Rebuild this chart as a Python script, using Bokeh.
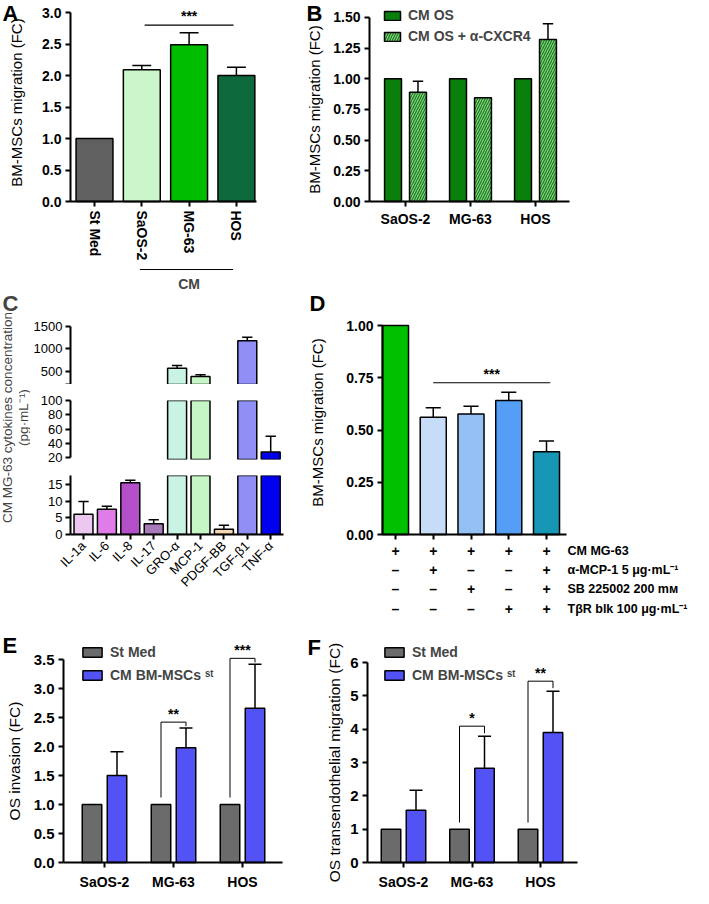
import math
from bokeh.plotting import figure
from bokeh.layouts import column, row
from bokeh.models import (Range1d, FixedTicker, Label, LabelSet, ColumnDataSource,
                          Legend, LegendItem, Arrow, NumeralTickFormatter)
from bokeh.core.properties import value
from bokeh.embed import file_html
from bokeh.resources import INLINE

FONT = "Liberation Sans"

# ---------------- data ----------------
a_categories = ["St Med", "SaOS-2", "MG-63", "HOS"]
a_values = [1.0, 2.09, 2.49, 2.00]
a_errors = [0.0, 0.07, 0.19, 0.13]
a_colors = ["#606060", "#cbf6cb", "#00bd00", "#0d6a3c"]
a_ticks = [0.0, 0.5, 1.0, 1.5, 2.0, 2.5, 3.0]

b_categories = ["SaOS-2", "MG-63", "HOS"]
b_cm_os = [1.0, 1.0, 1.0]
b_cm_os_cxcr4 = [0.89, 0.845, 1.32]
b_cm_os_cxcr4_err = [0.09, 0.0, 0.13]
b_ticks = [0.0, 0.25, 0.5, 0.75, 1.0, 1.25, 1.5]

c_categories = ["IL-1a", "IL-6", "IL-8", "IL-17", "GRO-α", "MCP-1", "PDGF-BB", "TGF-β1", "TNF-α"]
c_values = [6.1, 7.6, 15.5, 3.2, 560, 380, 1.6, 1175, 28]
c_errors = [3.8, 0.9, 0.8, 1.2, 65, 35, 1.2, 75, 22]
c_colors = ["#ecc8f1", "#e07ce8", "#b44fca", "#a67bb8", "#c9f3e2", "#c6f5c6", "#f6d7b3", "#8f8ff5", "#0000ee"]
c_ticks_top = [200, 500, 1000, 1500]
c_ticks_mid = [20, 40, 60, 80, 100]
c_ticks_bot = [0, 5, 10, 15]

d_values = [1.0, 0.561, 0.577, 0.641, 0.396]
d_errors = [0.0, 0.045, 0.037, 0.040, 0.051]
d_colors = ["#00c000", "#c7ddf7", "#94c0f5", "#559ef6", "#1896b5"]
d_rows = ["CM MG-63", "α-MCP-1  5 μg·mL⁻¹", "SB 225002 200 mᴍ", "TβR blk 100 μg·mL⁻¹"]
d_signs = [["+", "+", "+", "+", "+"],
           ["–", "+", "–", "–", "+"],
           ["–", "–", "+", "–", "+"],
           ["–", "–", "–", "+", "+"]]
d_ticks = [0.0, 0.25, 0.5, 0.75, 1.0]

ef_categories = ["SaOS-2", "MG-63", "HOS"]
e_st_med = [1.0, 1.0, 1.0]
e_cm = [1.50, 1.98, 2.66]
e_cm_err = [0.41, 0.34, 0.76]
e_sig = ["", "**", "***"]
e_ticks = [0.0, 0.5, 1.0, 1.5, 2.0, 2.5, 3.0, 3.5]

f_st_med = [1.0, 1.0, 1.0]
f_cm = [1.57, 2.83, 3.90]
f_cm_err = [0.60, 0.96, 1.24]
f_sig = ["", "*", "**"]
f_ticks = [0, 1, 2, 3, 4, 5, 6]


# ---------------- helpers ----------------
def style(p, tick_size="14px", tick_style="bold"):
    p.outline_line_color = None
    p.xgrid.grid_line_color = None
    p.ygrid.grid_line_color = None
    for ax in p.axis:
        ax.axis_line_width = 2
        ax.axis_line_color = "black"
        ax.major_tick_line_width = 2
        ax.major_tick_line_color = "black"
        ax.major_tick_in = 0
        ax.major_tick_out = 5
        ax.minor_tick_line_color = None
        ax.major_label_text_font = FONT
        ax.major_label_text_font_size = tick_size
        ax.major_label_text_font_style = tick_style
        ax.major_label_text_color = "black"
        ax.major_label_standoff = 4


def full_fig(s):
    """Figure whose frame is the whole canvas; axes are pinned at data locations."""
    xr = ((s["L"] - s["xc0"]) / s["kx"], (s["L"] + s["W"] - s["xc0"]) / s["kx"])
    yr = ((s["y0"] - (s["T"] + s["H"])) / s["ky"], (s["y0"] - s["T"]) / s["ky"])
    p = figure(width=s["W"], height=s["H"], min_border=0,
               x_range=Range1d(*xr), y_range=Range1d(*yr),
               output_backend="svg", toolbar_location=None, tools="")
    style(p)
    xa = (s["axis"] - s["xc0"]) / s["kx"]
    p.yaxis.fixed_location = xa
    p.xaxis.fixed_location = 0
    p.xaxis.bounds = (xa, (s["xend"] - s["xc0"]) / s["kx"])
    return p


def to_data(s, px, py):
    return (px - s["xc0"]) / s["kx"], (s["y0"] - py) / s["ky"]


def letter(p, s, text, px, py):
    x, y = to_data(s, px, py)
    p.add_layout(Label(x=x, y=y, text=text, text_font=FONT, text_font_size="22px",
                       text_font_style="bold", text_align="left", text_baseline="top",
                       text_color="black"))


def ylabel(p, s, text, px, py, size="15px"):
    x, y = to_data(s, px, py)
    p.add_layout(Label(x=x, y=y, text=text, angle=math.pi / 2, text_font=FONT,
                       text_font_size=size, text_align="center", text_baseline="middle",
                       text_color="black"))


def err_bars(p, xs, vals, errs, cap_half, lw=1.5):
    x0, y0, x1, y1 = [], [], [], []
    for x, v, e in zip(xs, vals, errs):
        if e <= 0:
            continue
        x0 += [x, x - cap_half]
        x1 += [x, x + cap_half]
        y0 += [v, v + e]
        y1 += [v + e, v + e]
    if x0:
        p.segment(x0=x0, y0=y0, x1=x1, y1=y1, line_color="black", line_width=lw)


def stars(p, x, y, txt, size="14px"):
    p.text(x=[x], y=[y], text=[txt], text_align="center", text_baseline="bottom",
           text_font=value(FONT), text_font_size=size, text_font_style="bold",
           text_color="black")


def cat_axis(ax, cats):
    ax.ticker = FixedTicker(ticks=list(range(len(cats))))
    ax.major_label_overrides = {i: c for i, c in enumerate(cats)}


def style_legend(leg, gw, gh, size, spacing):
    leg.glyph_width = gw
    leg.glyph_height = gh
    leg.label_height = gh
    leg.spacing = spacing
    leg.padding = 0
    leg.margin = 0
    leg.label_standoff = 6
    leg.border_line_color = None
    leg.background_fill_alpha = 0
    leg.label_text_font = FONT
    leg.label_text_font_style = "bold"
    leg.label_text_font_size = size


# ---------------- Panel A ----------------
sA = dict(L=8, T=8, W=302, H=290, axis=78, xend=264, xc0=102, kx=47.3, y0=209, ky=63.0)
pA = full_fig(sA)
xa = list(range(len(a_categories)))
pA.vbar(x=xa, top=a_values, bottom=0, width=0.78, fill_color=a_colors,
        line_color="black", line_width=1.5)
err_bars(pA, xa, a_values, a_errors, 0.2)
pA.yaxis.ticker = FixedTicker(ticks=a_ticks)
pA.yaxis.formatter = NumeralTickFormatter(format="0.0")
pA.yaxis.bounds = (0, 3.0)
cat_axis(pA.xaxis[0], a_categories)
pA.xaxis.major_label_orientation = "vertical"
ylabel(pA, sA, "BM-MSCs migration (FC)", 24, 110)
sigA = max(v + e for v, e in zip(a_values[1:], a_errors[1:])) + 0.12
pA.line(x=[1.06, 2.94], y=[sigA, sigA], line_color="black", line_width=1.2)
stars(pA, 2, sigA + 0.02, "***")
cm_line_y = to_data(sA, 0, 277)[1]
cm_text_y = to_data(sA, 0, 291)[1]
pA.add_layout(Arrow(end=None, x_start=0.96, y_start=cm_line_y, x_end=2.93, y_end=cm_line_y,
                    line_color="black", line_width=1.2))
pA.add_layout(Label(x=2, y=cm_text_y, text="CM", text_font=FONT, text_font_size="14px",
                    text_font_style="bold", text_align="center", text_baseline="middle"))
letter(pA, sA, "A", 10, 8)

# ---------------- Panel B ----------------
sB = dict(L=310, T=8, W=391, H=290, axis=377, xend=577, xc0=413, kx=65.0, y0=209, ky=122.67)
pB = full_fig(sB)
xb = list(range(len(b_categories)))
offB, wB = 0.192, 0.26
rb1 = pB.vbar(x=[i - offB for i in xb], top=b_cm_os, width=wB, fill_color="#0b7f0b",
              line_color="black", line_width=1.5)
rb2 = pB.vbar(x=[i + offB for i in xb], top=b_cm_os_cxcr4, width=wB, fill_color="#82d282",
              hatch_pattern="/", hatch_color="#1c7a1c", hatch_scale=5, hatch_weight=1.2,
              line_color="black", line_width=1.5)
err_bars(pB, [i + offB for i in xb], b_cm_os_cxcr4, b_cm_os_cxcr4_err, 0.08)
pB.yaxis.ticker = FixedTicker(ticks=b_ticks)
pB.yaxis.formatter = NumeralTickFormatter(format="0.00")
pB.yaxis.bounds = (0, 1.5)
cat_axis(pB.xaxis[0], b_categories)
ylabel(pB, sB, "BM-MSCs migration (FC)", 322, 117)
legB = Legend(items=[LegendItem(label="CM OS", renderers=[rb1]),
                     LegendItem(label="CM OS + α-CXCR4", renderers=[rb2])],
              location=(80, 290 - 44))
style_legend(legB, 20, 11, "14px", 5)
pB.add_layout(legB)
letter(pB, sB, "B", 314, 8)


# ---------------- Panel C (broken axis: three stacked segments) ----------------
def seg_fig(bt, fh, bb, yr):
    kx = 23.4
    xr = (-13 / kx, -13 / kx + 213 / kx)
    p = figure(frame_width=213, frame_height=fh, min_border_left=37, min_border_right=22,
               min_border_top=bt, min_border_bottom=bb,
               x_range=Range1d(*xr), y_range=Range1d(*yr),
               output_backend="svg", toolbar_location=None, tools="")
    style(p, tick_size="13px", tick_style="normal")
    p.yaxis.major_label_standoff = 3
    return p


seg_ranges = [(200, 200 + 62 / 0.045), (17.6, 100), (0, 59 / 3.333)]
pCt = seg_fig(32, 62, 0, seg_ranges[0])      # page y 298..392
pCm = seg_fig(16, 59, 6, seg_ranges[1])      # page y 392..473
pCb = seg_fig(10, 59, 90, seg_ranges[2])     # page y 473..632
for p, yr, ticks, bounds in [(pCt, seg_ranges[0], c_ticks_top, (200, 1500)),
                             (pCm, seg_ranges[1], c_ticks_mid, (20, 100)),
                             (pCb, seg_ranges[2], c_ticks_bot, None)]:
    # only the bars that reach into this segment of the broken axis
    keep = [i for i, v in enumerate(c_values) if v > yr[0]]
    xs = keep
    vs = [c_values[i] for i in keep]
    es = [c_errors[i] for i in keep]
    cs = [c_colors[i] for i in keep]
    p.vbar(x=xs, top=vs, bottom=0, width=0.81, fill_color=cs,
           line_color="black", line_width=1.5)
    err_bars(p, xs, vs, es, 0.22)
    p.yaxis.ticker = FixedTicker(ticks=ticks)
    if bounds is not None:
        p.yaxis.bounds = bounds
pCt.yaxis.major_label_overrides = {200: ""}
pCt.xaxis.visible = False
pCm.xaxis.visible = False
cat_axis(pCb.xaxis[0], c_categories)
pCb.xaxis.major_label_orientation = math.pi / 4
pCb.xaxis.major_label_text_font_size = "13px"

pCl = figure(width=30, height=334, min_border=0, x_axis_type=None, y_axis_type=None,
             x_range=Range1d(0, 30), y_range=Range1d(0, 334),
             output_backend="svg", toolbar_location=None, tools="")
pCl.outline_line_color = None
pCl.xgrid.grid_line_color = None
pCl.ygrid.grid_line_color = None
pCl.add_layout(Label(x=15, y=632 - 425, text="CM MG-63 cytokines concentration\n(pg·mL⁻¹)",
                     angle=math.pi / 2, text_font=FONT, text_font_size="13.5px",
                     text_align="center", text_baseline="middle", text_line_height=1.1))
pCl.add_layout(Label(x=2, y=334, text="C", text_font=FONT, text_font_size="22px",
                     text_font_style="bold", text_align="left", text_baseline="top"))

# ---------------- Panel D ----------------
sD = dict(L=310, T=298, W=391, H=334, axis=387, xend=571, xc0=400, kx=37.75, y0=542, ky=209.0)
pD = full_fig(sD)
xd = list(range(len(d_values)))
pD.vbar(x=xd, top=d_values, width=0.69, fill_color=d_colors, line_color="black", line_width=1.5)
err_bars(pD, xd, d_values, d_errors, 0.2)
pD.yaxis.ticker = FixedTicker(ticks=d_ticks)
pD.yaxis.formatter = NumeralTickFormatter(format="0.00")
pD.yaxis.bounds = (0, 1.0)
pD.xaxis.ticker = FixedTicker(ticks=xd)
pD.xaxis.major_label_overrides = {i: "" for i in xd}
ylabel(pD, sD, "BM-MSCs migration (FC)", 322, 430)
sigD = max(v + e for v, e in zip(d_values[1:], d_errors[1:])) + 0.045
pD.line(x=[1.0, 4.1], y=[sigD, sigD], line_color="black", line_width=1.2)
stars(pD, 2.55, sigD + 0.005, "***")
row_py = [558, 577, 596, 616]
tx, ty, tt = [], [], []
for r, signs in enumerate(d_signs):
    yy = to_data(sD, 0, row_py[r])[1]
    for i, sgn in enumerate(signs):
        tx.append(xd[i])
        ty.append(yy)
        tt.append(sgn)
pD.add_layout(LabelSet(source=ColumnDataSource(dict(x=tx, y=ty, t=tt)), x="x", y="y", text="t",
                       text_align="center", text_baseline="middle", text_font=value(FONT),
                       text_font_size="14px", text_font_style="bold", text_color="black"))
lx = to_data(sD, 572, 0)[0]
pD.add_layout(LabelSet(source=ColumnDataSource(dict(x=[lx] * len(d_rows),
                                                    y=[to_data(sD, 0, py)[1] for py in row_py],
                                                    t=d_rows)),
                       x="x", y="y", text="t", text_align="left", text_baseline="middle",
                       text_font=value(FONT), text_font_size="12.5px", text_font_style="bold",
                       text_color="black"))
letter(pD, sD, "D", 314, 298)


# ---------------- Panels E, F ----------------
def grouped(s, st, cm, cm_err, sig, ticks, fmt, ybound, ylab, ylab_px, top_pad, foot_pad,
            lab_letter, lpx, lpy):
    p = full_fig(s)
    kx = s["kx"]
    xs = list(range(len(ef_categories)))
    off = 12.5 / kx
    w = 19.5 / kx
    r1 = p.vbar(x=[i - off for i in xs], top=st, width=w, fill_color="#6b6b6b",
                line_color="black", line_width=1.5)
    r2 = p.vbar(x=[i + off for i in xs], top=cm, width=w, fill_color="#5252f5",
                line_color="black", line_width=1.5)
    err_bars(p, [i + off for i in xs], cm, cm_err, 6.5 / kx)
    for i, sg in enumerate(sig):
        if not sg:
            continue
        t = cm[i] + cm_err[i]
        top = t + top_pad
        p.line(x=[i - off, i - off, i + off, i + off],
               y=[st[i] + foot_pad, top, top, t + top_pad * 0.3],
               line_color="black", line_width=1)
        stars(p, i, top, sg)
    p.yaxis.ticker = FixedTicker(ticks=ticks)
    p.yaxis.formatter = NumeralTickFormatter(format=fmt)
    p.yaxis.bounds = ybound
    p.yaxis.major_label_text_font_size = "15px"
    cat_axis(p.xaxis[0], ef_categories)
    p.xaxis.major_label_standoff = 6
    ytop_px = s["y0"] - ybound[1] * s["ky"]
    ylabel(p, s, ylab, ylab_px, (ytop_px + s["y0"]) / 2, size="15.5px")
    leg = Legend(items=[LegendItem(label="St Med", renderers=[r1]),
                        LegendItem(label="CM BM-MSCs ˢᵗ", renderers=[r2])],
                 location=(80, s["T"] + s["H"] - 691))
    style_legend(leg, 24, 12, "14px", 7)
    p.add_layout(leg)
    letter(p, s, lab_letter, lpx, lpy)
    return p


sE = dict(L=8, T=632, W=302, H=264, axis=71, xend=290, xc0=112, kx=69.0, y0=870, ky=58.0)
pE = grouped(sE, e_st_med, e_cm, e_cm_err, e_sig, e_ticks, "0.0", (0, 3.5),
             "OS invasion (FC)", 22, 0.1, 0.12, "E", 10, 640)
sF = dict(L=310, T=632, W=391, H=264, axis=375, xend=585, xc0=411, kx=68.5, y0=870, ky=33.33)
pF = grouped(sF, f_st_med, f_cm, f_cm_err, f_sig, f_ticks, "0", (0, 6),
             "OS transendothelial migration (FC)", 342, 0.3, 0.2, "F", 315, 642)

layout = column(
    row(pA, pB),
    row(row(pCl, column(pCt, pCm, pCb)), pD),
    row(pE, pF),
)

open("out.html", "w").write(file_html(layout, INLINE))
